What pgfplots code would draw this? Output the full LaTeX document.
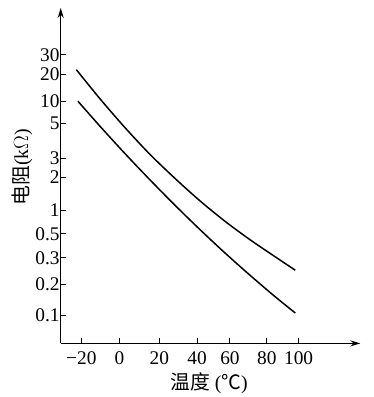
\documentclass[border=0pt]{standalone}
\usepackage{fontspec}
\setmainfont{Liberation Serif}
\newfontfamily\cjk{Noto Sans CJK SC}
\usepackage{pgfplots}
\pgfplotsset{compat=1.18}
\usetikzlibrary{arrows.meta}
\begin{document}
\begin{tikzpicture}
\begin{axis}[
  scale only axis,
  width=301bp, height=337bp,
  xmin=61, xmax=362, ymin=52, ymax=389,
  axis lines=left,
  axis line style={line width=1.4bp, -{Stealth[length=10bp,width=6bp]}},
  clip=false,
  tick align=inside,
  major tick length=5bp,
  tick style={line width=1bp, black},
  xtick={81.7,120,160,198,231,268,300},
  xticklabels={−20,0,20,40,60,80,100},
  ytick={80,111,138,162,186,219,238,273,295,322,342},
  yticklabels={0.1,0.2,0.3,0.5,1,2,3,5,10,20,30},
  /pgf/number format/assume math mode=true,
  ticklabel style={font=\fontsize{19.5}{19.5}\selectfont},
  xticklabel style={inner sep=0pt, yshift=-8bp},
  yticklabel style={inner sep=0pt, xshift=-1bp},
]
\path (axis cs:0,0) rectangle (axis cs:375,397);
\addplot[black, line width=1.5bp, smooth] coordinates {
  (76.7,327) (100,298.3) (125,269.4) (150,242.6) (175,218.5)
  (200,196) (225,175.5) (250,157) (275,140) (296.7,125.5)
};
\addplot[black, line width=1.5bp, smooth] coordinates {
  (78.3,295.3) (100,270.7) (125,243.3) (150,217.0) (175,191.6)
  (200,167.2) (225,143.8) (250,121.5) (275,100.1) (296.7,82.5)
};
\node[font=\fontsize{20}{20}\selectfont] at (axis cs:210,12) {{\cjk 温度} ({\cjk ℃})};
\node[rotate=90, font=\fontsize{20}{20}\selectfont] at (axis cs:22,229) {{\cjk 电阻}(k$\Omega$)};
\end{axis}
\end{tikzpicture}
\end{document}
